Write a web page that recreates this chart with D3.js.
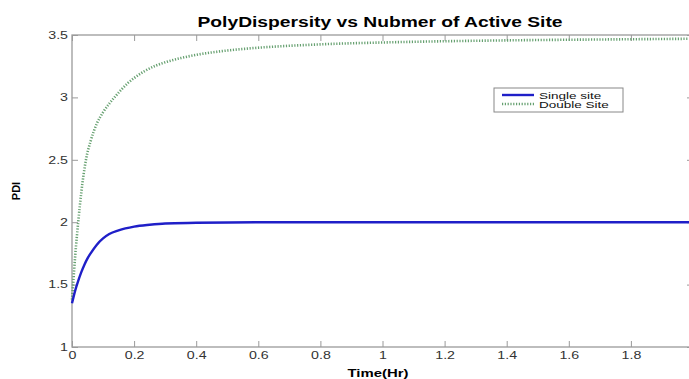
<!DOCTYPE html>
<html>
<head>
<meta charset="utf-8">
<script src="https://cdn.jsdelivr.net/npm/d3@7"></script>
<style>
  body { margin: 0; background: #fff; }
  svg { display: block; font-family: "Liberation Sans", Arial, sans-serif; }
</style>
</head>
<body>
<div id="chart"></div>
<script>
// PDI vs time
const singleT = [0, 0.01, 0.02, 0.03, 0.04, 0.05, 0.06, 0.08, 0.1, 0.12, 0.15, 0.2, 0.25, 0.3, 0.4, 0.6, 1.0, 1.5, 2.0];
const singlePDI = [1.35, 1.45, 1.53, 1.6, 1.66, 1.71, 1.75, 1.82, 1.87, 1.905, 1.935, 1.965, 1.98, 1.99, 1.995, 2.0, 2.0, 2.0, 2.0];

const doubleT = [0, 0.005, 0.01, 0.02, 0.03, 0.045, 0.06, 0.08, 0.1, 0.12, 0.14, 0.16, 0.18, 0.2, 0.23, 0.27, 0.305, 0.35, 0.41, 0.48, 0.56, 0.8, 1.0, 1.2, 1.4, 1.6, 1.8, 2.0];
const doublePDI = [1.38, 1.55, 1.72, 2.0, 2.24, 2.5, 2.65, 2.79, 2.88, 2.95, 3.01, 3.065, 3.115, 3.155, 3.205, 3.255, 3.285, 3.315, 3.345, 3.37, 3.39, 3.425, 3.44, 3.45, 3.457, 3.462, 3.466, 3.47];

const xTicks = [0, 0.2, 0.4, 0.6, 0.8, 1, 1.2, 1.4, 1.6, 1.8, 2];
const yTicks = [1, 1.5, 2, 2.5, 3, 3.5];
const seriesNames = ["Single site", "Double Site"];

const W = 689, H = 379;
const m = { left: 72, right: 693, top: 35, bottom: 347 };
const stretch = 1.42; // the source picture is widened horizontally

const svg = d3.select("#chart").append("svg")
  .attr("width", W).attr("height", H);

const x = d3.scaleLinear().domain([0, 2]).range([m.left, m.right]);
const y = d3.scaleLinear().domain([1, 3.5]).range([m.bottom, m.top]);

const axisColor = "#9a9a9a";
const blue = "#1f1fc8";
const green = "#66a070";

// box
svg.append("rect")
  .attr("x", m.left).attr("y", m.top)
  .attr("width", m.right - m.left).attr("height", m.bottom - m.top)
  .attr("fill", "none").attr("stroke", axisColor).attr("stroke-width", 1.3);

// ticks pointing inward, on all four sides
const tickLen = 6;
function styleAxis(g) {
  g.select(".domain").remove();
  g.selectAll(".tick line").attr("stroke", axisColor).attr("stroke-width", 1);
  g.selectAll(".tick text").attr("fill", "#333").attr("font-size", 10).classed("wide", true);
}

svg.append("g").attr("transform", `translate(0,${m.bottom})`)
  .call(d3.axisBottom(x).tickValues(xTicks).tickFormat(d3.format("~g"))
    .tickSizeInner(-tickLen).tickPadding(5))
  .call(styleAxis);

svg.append("g").attr("transform", `translate(0,${m.top})`)
  .call(d3.axisTop(x).tickValues(xTicks).tickFormat("").tickSizeInner(-tickLen))
  .call(styleAxis);

svg.append("g").attr("transform", `translate(${m.left},0)`)
  .call(d3.axisLeft(y).tickValues(yTicks).tickFormat(d3.format("~g"))
    .tickSizeInner(-tickLen).tickPadding(4))
  .call(styleAxis);

svg.append("g").attr("transform", `translate(${m.right},0)`)
  .call(d3.axisRight(y).tickValues(yTicks).tickFormat("").tickSizeInner(-tickLen))
  .call(styleAxis);

// curves
const line = d3.line().x(d => x(d[0])).y(d => y(d[1])).curve(d3.curveMonotoneX);

svg.append("path")
  .datum(doubleT.map((t, i) => [t, doublePDI[i]]))
  .attr("d", line)
  .attr("fill", "none").attr("stroke", green)
  .attr("stroke-width", 2.6).attr("stroke-dasharray", "1.2,1.6");

svg.append("path")
  .datum(singleT.map((t, i) => [t, singlePDI[i]]))
  .attr("d", line)
  .attr("fill", "none").attr("stroke", blue).attr("stroke-width", 2.4);

// legend
const lg = svg.append("g").attr("transform", "translate(494,88)");
lg.append("rect").attr("width", 129).attr("height", 24)
  .attr("fill", "#fff").attr("stroke", "#888").attr("stroke-width", 1);
lg.append("line").attr("x1", 8).attr("x2", 40).attr("y1", 7).attr("y2", 7)
  .attr("stroke", blue).attr("stroke-width", 2.4);
lg.append("line").attr("x1", 8).attr("x2", 40).attr("y1", 16).attr("y2", 16)
  .attr("stroke", green).attr("stroke-width", 2.4).attr("stroke-dasharray", "1.2,1.6");
seriesNames.forEach((s, i) => {
  lg.append("text").attr("x", 45).attr("y", 10.5 + i * 9.5)
    .attr("font-size", 9.5).attr("fill", "#111").classed("wide", true).text(s);
});

// title and labels
svg.append("text").attr("x", 380).attr("y", 27)
  .attr("text-anchor", "middle").attr("font-size", 14).attr("font-weight", "bold")
  .attr("textLength", 365).attr("lengthAdjust", "spacingAndGlyphs")
  .text("PolyDispersity vs Nubmer of Active Site");

svg.append("text").attr("x", 378).attr("y", 377)
  .attr("text-anchor", "middle").attr("font-size", 11).attr("font-weight", "bold")
  .attr("textLength", 61).attr("lengthAdjust", "spacingAndGlyphs")
  .text("Time(Hr)");

svg.append("text").attr("transform", "translate(20,191) rotate(-90)")
  .attr("text-anchor", "middle").attr("font-size", 11).attr("font-weight", "bold")
  .text("PDI");

// widen the small texts like in the picture
svg.selectAll("text.wide").each(function () {
  const w = this.getComputedTextLength();
  if (w > 0) d3.select(this).attr("textLength", w * stretch).attr("lengthAdjust", "spacingAndGlyphs");
});
</script>
</body>
</html>
